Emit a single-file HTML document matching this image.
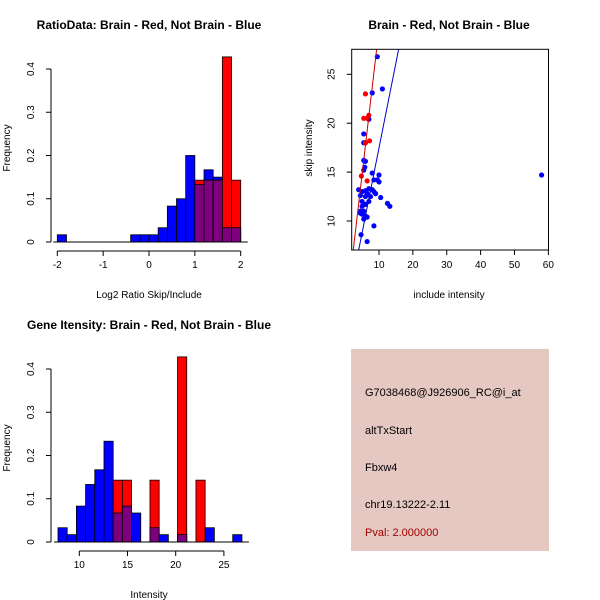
<!DOCTYPE html>
<html><head><meta charset="utf-8"><style>
body{margin:0;background:#fff}
svg{display:block;font-family:"Liberation Sans",sans-serif}
</style></head><body>
<svg id="c" width="600" height="600" xmlns="http://www.w3.org/2000/svg">
<rect width="600" height="600" fill="#fff"/>
<text x="149" y="29" font-size="12" font-weight="bold" text-anchor="middle">RatioData: Brain - Red, Not Brain - Blue</text>
<text x="449" y="29" font-size="12" font-weight="bold" text-anchor="middle">Brain - Red, Not Brain - Blue</text>
<text x="149" y="329" font-size="12" font-weight="bold" text-anchor="middle">Gene Itensity: Brain - Red, Not Brain - Blue</text>
<text x="149" y="298" font-size="10" text-anchor="middle">Log2 Ratio Skip/Include</text>
<text x="149" y="598" font-size="10" text-anchor="middle">Intensity</text>
<text x="449" y="298" font-size="10" text-anchor="middle">include intensity</text>
<text transform="translate(10,148) rotate(-90)" font-size="10" text-anchor="middle">Frequency</text>
<text transform="translate(10,448) rotate(-90)" font-size="10" text-anchor="middle">Frequency</text>
<text transform="translate(312,148) rotate(-90)" font-size="10" text-anchor="middle">skip intensity</text>
<g>
<rect x="351" y="349" width="198" height="202" fill="#e6c8c2"/>
<text x="365" y="396" font-size="11">G7038468@J926906_RC@i_at</text>
<text x="365" y="434" font-size="11">altTxStart</text>
<text x="365" y="471" font-size="11">Fbxw4</text>
<text x="365" y="508" font-size="11">chr19.13222-2.11</text>
<text x="365" y="536" font-size="11" fill="#a00000">Pval: 2.000000</text>
</g>
</svg>
<script>
// ---- ratio histogram data ----
const ratioStart = -2, ratioBinW = 0.2;
const ratioBlue = [0.0167,0,0,0,0,0,0,0,0.0167,0.0167,0.0167,0.033,0.083,0.1,0.2,0.133,0.167,0.15,0.033,0.033];
const ratioRed  = [0,0,0,0,0,0,0,0,0,0,0,0,0,0,0,0.143,0.143,0.143,0.428,0.143];
const ratioXTicks = [-2,-1,0,1,2];
const freqTicks = [0,0.1,0.2,0.3,0.4];
// ---- intensity histogram data ----
const intStart = 7.79, intBinW = 0.954;
const intBlue = [0.033,0.017,0.083,0.133,0.167,0.233,0.067,0.083,0.067,0,0.033,0.017,0,0.017,0,0,0.033,0,0,0.017];
const intRed  = [0,0,0,0,0,0,0.143,0.143,0,0,0.143,0,0,0.428,0,0.143,0,0,0,0];
const intXTicks = [10,15,20,25];
// ---- scatter data ----
const redX = [6,5.5,6.5,7,7.2,4.8,6.5,6];
const redY = [23,20.5,20.5,20.8,18.2,14.6,14.1,18];
const blueX = [9.5,11,8,7,5.5,5.5,6,5.5,6,5.8,5.5,8,10,9.5,8.5,10,58,4,5,6,7,8,9,8.5,4.5,5,6,7,10.5,12.5,13.2,5,6,4.5,5,6,5.5,6.5,8.5,4.7,6.5,7.5,5.5,6.5,4.5];
const blueY = [26.8,23.5,23.1,20.4,18.9,18,18,16.2,16.1,15.5,15.2,14.9,14.7,14.2,14.2,14,14.7,13.2,13,13.1,13.3,13.2,12.8,13,12.6,12,12.5,12,12.4,11.8,11.5,11.5,11.7,11,10.7,10.5,10.2,10.4,9.5,8.6,7.9,12.5,11,12.8,10.8];
const redLine = {x0:2.4, y0:7.03, slope:2.975};
const blueLine = {x0:4.0, y0:7.03, slope:1.74};
const scXTicks = [10,20,30,40,50,60];
const scYTicks = [10,15,20,25];

const svg = document.getElementById('c');
const NS = 'http://www.w3.org/2000/svg';
function mk(tag, attrs){const e=document.createElementNS(NS,tag);for(const k in attrs)e.setAttribute(k,attrs[k]);svg.appendChild(e);return e;}

function hist(start,w,blue,red,sx,sy,xticks,xtickY,prefix){
  for(let i=0;i<blue.length;i++){
    const x0=sx(start+i*w), x1=sx(start+(i+1)*w);
    const b=blue[i], r=red[i], m=Math.min(b,r);
    if(b>0){const e=mk('rect',{x:x0,y:sy(b),width:x1-x0,height:sy(0)-sy(b),fill:'#0000ff',stroke:'#000','stroke-width':0.8});
      
      }
    if(r>0){const e=mk('rect',{x:x0,y:sy(r),width:x1-x0,height:sy(0)-sy(r),fill:'#ff0000',stroke:'#000','stroke-width':0.8});
      
      }
    if(m>0){const e=mk('rect',{x:x0,y:sy(m),width:x1-x0,height:sy(0)-sy(m),fill:'#7f007f',stroke:'#000','stroke-width':0.8});
      
      }
  }
  const bx0=sx(start), bx1=sx(start+blue.length*w);
  mk('line',{x1:bx0-4,x2:bx1+7,y1:sy(0),y2:sy(0),stroke:'#000'});
  mk('line',{x1:sx(xticks[0]),x2:sx(xticks[xticks.length-1]),y1:xtickY,y2:xtickY,stroke:'#000'});
  xticks.forEach(t=>{mk('line',{x1:sx(t),x2:sx(t),y1:xtickY,y2:xtickY+5,stroke:'#000'});
    const e=mk('text',{x:sx(t),y:xtickY+17,'font-size':10,'text-anchor':'middle'});e.textContent=t;
    
    });
  const ax=51;
  mk('line',{x1:ax,x2:ax,y1:sy(0),y2:sy(0.4),stroke:'#000'});
  freqTicks.forEach(t=>{mk('line',{x1:ax,x2:ax-5,y1:sy(t),y2:sy(t),stroke:'#000'});
    const e=mk('text',{transform:`translate(${ax-17},${sy(t)}) rotate(-90)`,'font-size':10,'text-anchor':'middle'});e.textContent=t;
    
    });
}
hist(ratioStart,ratioBinW,ratioBlue,ratioRed,v=>57.3+(v+2)*45.85,v=>242-v*432.5,ratioXTicks,251,'ratio');
hist(intStart,intBinW,intBlue,intRed,v=>79.3+(v-10)*9.64,v=>542-v*432.5,intXTicks,551,'intensity');

const sx=v=>379+(v-10)*3.387, sy=v=>221-(v-10)*9.78;
const L=351.7,R=548.5,T=49.3,B=250;
const cp=mk('clipPath',{id:'cl'});const cr=document.createElementNS(NS,'rect');
cr.setAttribute('x',L);cr.setAttribute('y',T);cr.setAttribute('width',R-L);cr.setAttribute('height',B-T);cp.appendChild(cr);
blueX.forEach((x,i)=>{const e=mk('circle',{cx:sx(x),cy:sy(blueY[i]),r:2.6,fill:'#0000ff'});
  
  });
redX.forEach((x,i)=>{const e=mk('circle',{cx:sx(x),cy:sy(redY[i]),r:2.6,fill:'#ff0000'});
  
  });
[[redLine,'#cc0000','red-fit-line'],[blueLine,'#0000cc','blue-fit-line']].forEach(([l,c,n])=>{
  const ya=5, yb=30;
  const e=mk('line',{x1:sx(l.x0+(ya-l.y0)/l.slope),y1:sy(ya),x2:sx(l.x0+(yb-l.y0)/l.slope),y2:sy(yb),stroke:c,'clip-path':'url(#cl)'});
  
  });
mk('rect',{x:L,y:T,width:R-L,height:B-T,fill:'none',stroke:'#000'});
scXTicks.forEach(t=>{mk('line',{x1:sx(t),x2:sx(t),y1:B,y2:B+5,stroke:'#000'});
  const e=mk('text',{x:sx(t),y:B+18,'font-size':10,'text-anchor':'middle'});e.textContent=t;
  
  });
scYTicks.forEach(t=>{mk('line',{x1:L,x2:L-5,y1:sy(t),y2:sy(t),stroke:'#000'});
  const e=mk('text',{transform:`translate(${L-17},${sy(t)}) rotate(-90)`,'font-size':10,'text-anchor':'middle'});e.textContent=t;
  
  });
</script>
</body></html>
